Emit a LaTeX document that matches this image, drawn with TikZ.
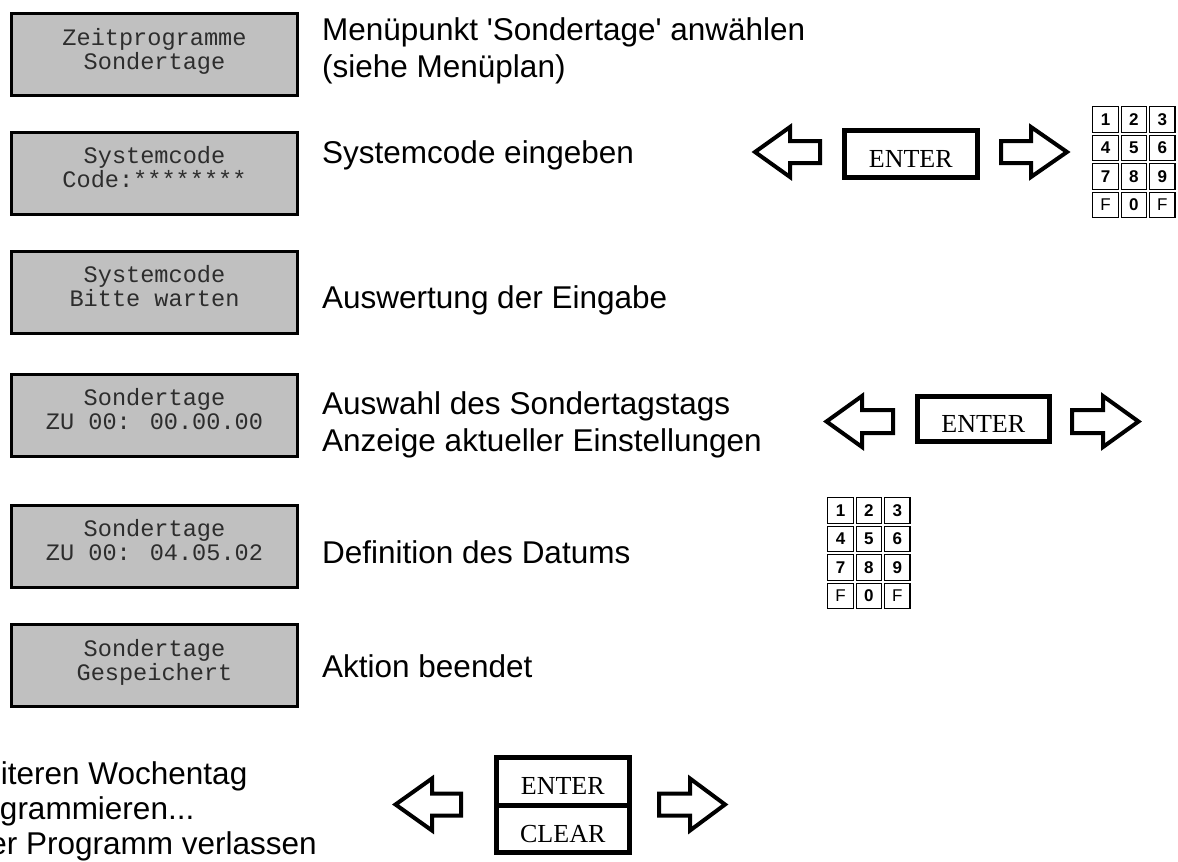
\documentclass[tikz,border=0pt]{standalone}
\usepackage{fontspec}
\setmainfont{Liberation Sans}
\newfontfamily\descfont{Liberation Sans}
\newfontfamily\lcdfont{Liberation Mono}
\newfontfamily\keyfont{Liberation Serif}

\definecolor{lcdfill}{RGB}{192,192,192}
\definecolor{lcdink}{RGB}{45,45,45}

% outline arrow: tip x, head base x, shaft end x, centre y, head half height, shaft half height
\newcommand{\fatarrowpath}[6]{%
  \draw[fatarrow] (#1,#4) -- (#2,#4-#5) -- (#2,#4-#6) -- (#3,#4-#6)
    -- (#3,#4+#6) -- (#2,#4+#6) -- (#2,#4+#5) -- cycle;}

\tikzset{
  lcd/.style={draw=black, line width=3pt, fill=lcdfill, minimum width=286pt,
    minimum height=82pt, inner sep=0pt},
  lcdline/.style={font=\fontsize{23.6}{23.6}\selectfont\lcdfont, text=lcdink,
    inner sep=0pt, anchor=base},
  desc/.style={font=\fontsize{31.5}{37}\selectfont\descfont, inner sep=0pt,
    anchor=base west},
  descr/.style={desc, anchor=base east},
  keybtn/.style={draw=black, line width=5pt, inner sep=0pt,
    font=\fontsize{26}{26}\selectfont\keyfont, text height=27pt, text depth=0pt},
  padkey/.style={draw=black, line width=1.2pt, minimum size=25.5pt, inner sep=0pt,
    font=\fontsize{17}{17}\selectfont\descfont},
  fatarrow/.style={draw=black, line width=4pt, miter limit=10},
}

\begin{document}
\begin{tikzpicture}[x=1pt, y=-1pt]
\useasboundingbox (0,0) rectangle (1178,862);
\clip (0,0) rectangle (1178,862);

% display states
\node[lcd] (lcd1) at (154.5,54.5) {};
\node[lcdline] (lcd1a) at ([yshift=9.5pt]lcd1.center) {Zeitprogramme};
\node[lcdline] (lcd1b) at ([yshift=-14.5pt]lcd1.center) {Sondertage};

\node[lcd] (lcd2) at (154.5,173.3) {};
\node[lcdline] (lcd2a) at ([yshift=9.5pt]lcd2.center) {Systemcode};
\node[lcdline] (lcd2b) at ([yshift=-14.5pt]lcd2.center) {Code:********};

\node[lcd] (lcd3) at (154.5,292.2) {};
\node[lcdline] (lcd3a) at ([yshift=9.5pt]lcd3.center) {Systemcode};
\node[lcdline] (lcd3b) at ([yshift=-14.5pt]lcd3.center) {Bitte warten};

\node[lcd] (lcd4) at (154.5,415.2) {};
\node[lcdline] (lcd4a) at ([yshift=9.5pt]lcd4.center) {Sondertage};
\node[lcdline] (lcd4b) at ([yshift=-14.5pt]lcd4.center) {ZU 00: 00.00.00};

\node[lcd] (lcd5) at (154.5,546) {};
\node[lcdline] (lcd5a) at ([yshift=9.5pt]lcd5.center) {Sondertage};
\node[lcdline] (lcd5b) at ([yshift=-14.5pt]lcd5.center) {ZU 00: 04.05.02};

\node[lcd] (lcd6) at (154.5,665.5) {};
\node[lcdline] (lcd6a) at ([yshift=9.5pt]lcd6.center) {Sondertage};
\node[lcdline] (lcd6b) at ([yshift=-14.5pt]lcd6.center) {Gespeichert};

% descriptions
\node[desc] (d1a) at (322,40.5) {Menüpunkt 'Sondertage' anwählen};
\node[desc] (d1b) at (322,77.5) {(siehe Menüplan)};
\node[desc] (d2) at (322,163) {Systemcode eingeben};
\node[desc] (d3) at (322,308) {Auswertung der Eingabe};
\node[desc] (d4a) at (322,414) {Auswahl des Sondertagstags};
\node[desc] (d4b) at (322,451) {Anzeige aktueller Einstellungen};
\node[desc] (d5) at (322,563) {Definition des Datums};
\node[desc] (d6) at (322,677) {Aktion beendet};

\node[descr] (e1) at (247.5,784) {iteren Wochentag};
\node[descr] (e2) at (194.5,819) {grammieren...};
\node[descr] (e3) at (317,854) {er Programm verlassen};

% keys
\node[keybtn, minimum width=133.5pt, minimum height=47pt] (ent1) at (910.75,153.5) {ENTER};
\fatarrowpath{755}{790}{820}{152}{25}{11}
\fatarrowpath{1067}{1031}{1001}{152}{25}{11}

\node[keybtn, minimum width=131.5pt, minimum height=44.5pt] (ent2) at (983.25,418.75) {ENTER};
\fatarrowpath{826.5}{862}{893}{421.5}{25.5}{11.5}
\fatarrowpath{1138.5}{1103}{1072}{421.5}{25.5}{11.5}

\node[keybtn, minimum width=132.5pt, minimum height=47.5pt] (ent3) at (562.75,781.25) {ENTER};
\node[keybtn, minimum width=132.5pt, minimum height=47.5pt] (clr3) at (562.75,828.75) {CLEAR};
\fatarrowpath{395.5}{432}{461}{804.5}{26}{11}
\fatarrowpath{725}{690}{659}{804.5}{26}{11}

% keypads
\foreach \lab [count=\i from 0] in {\textbf{1},\textbf{2},\textbf{3},\textbf{4},\textbf{5},\textbf{6},\textbf{7},\textbf{8},\textbf{9},F,\textbf{0},F} {
  \pgfmathtruncatemacro{\kr}{\i/3}
  \pgfmathtruncatemacro{\kc}{mod(\i,3)}
  \node[padkey] (kpa\i) at (1105.5+28.4*\kc, 119.5+28.5*\kr) {\lab};
  \node[padkey] (kpb\i) at (840.5+28.4*\kc, 510.5+28.5*\kr) {\lab};
}
\end{tikzpicture}
\end{document}
